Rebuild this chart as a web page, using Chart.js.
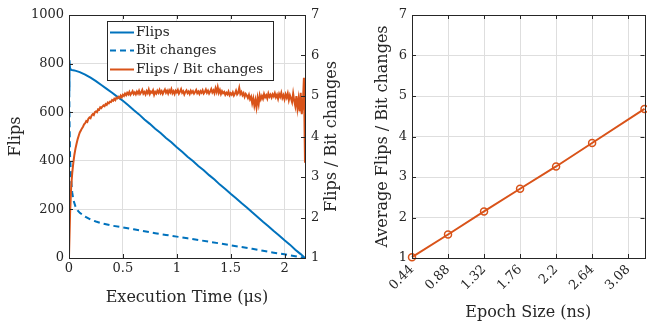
<!DOCTYPE html>
<html>
<head>
<meta charset="utf-8">
<script src="https://cdn.jsdelivr.net/npm/chart.js@4.4.1/dist/chart.umd.min.js"></script>
<style>
  html, body { margin: 0; padding: 0; background: #fff; overflow: hidden; }
  #wrap { position: relative; width: 647px; height: 324px; overflow: hidden; }
  canvas { position: absolute; top: 0; }
</style>
</head>
<body>
<div id="wrap">
  <canvas id="timeChart" width="345" height="324" style="left:0"></canvas>
  <canvas id="epochChart" width="305" height="324" style="left:345px"></canvas>
</div>
<script>
// ---- left panel: flips over execution time ----
var timeTicks = [0, 0.5, 1, 1.5, 2];
var flipTicks = [0, 200, 400, 600, 800, 1000];
var ratioTicks = [1, 2, 3, 4, 5, 6, 7];

var flipTime = [0, 0.004, 0.01, 0.02, 0.05, 0.10, 0.15, 0.20, 0.25, 0.30, 0.35, 0.40, 0.45, 0.50,
  0.55, 0.60, 0.65, 0.70, 0.75, 0.80, 0.85, 0.90, 0.95, 1.00, 1.05, 1.10, 1.15, 1.20, 1.25, 1.30,
  1.35, 1.40, 1.45, 1.50, 1.55, 1.60, 1.65, 1.70, 1.75, 1.80, 1.85, 1.90, 1.95, 2.00, 2.05, 2.10, 2.15, 2.19];
var flips = [690, 815, 780, 774, 772, 765, 755, 742, 728, 712, 696, 680, 663, 647,
  629, 609, 591, 570, 552, 532, 514, 494, 476, 456, 437, 417, 399, 379, 361, 341,
  323, 302, 284, 264, 246, 226, 208, 188, 169, 149, 131, 111, 93, 73, 55, 34, 16, 0];

var bitTime = [0, 0.005, 0.01, 0.02, 0.03, 0.04, 0.06, 0.08, 0.10, 0.15, 0.20, 0.25, 0.30, 0.40, 0.50,
  0.60, 0.70, 0.80, 0.90, 1.00, 1.10, 1.20, 1.30, 1.40, 1.50, 1.60, 1.70, 1.80, 1.90, 2.00, 2.10, 2.19];
var bitChanges = [810, 560, 420, 320, 270, 240, 212, 196, 186, 170, 158, 150, 143, 133, 126,
  118, 110, 102, 95, 88, 81, 74, 67, 60, 52, 45, 38, 30, 22, 15, 7, 0];

// sampled every 0.01 us from t = 0
var ratioStep = 0.01;
var ratio = [
  1.05, 2.10, 2.75, 3.10, 3.35, 3.55, 3.70, 3.82, 3.93, 4.02,
  4.10, 4.15, 4.20, 4.24, 4.30, 4.33, 4.38, 4.36, 4.44, 4.47,
  4.45, 4.52, 4.55, 4.53, 4.60, 4.62, 4.60, 4.67, 4.66, 4.72,
  4.70, 4.74, 4.77, 4.75, 4.80, 4.78, 4.84, 4.82, 4.86, 4.85,
  4.90, 4.88, 4.93, 4.90, 4.96, 4.94, 4.98, 4.95, 5.01, 4.97,
  5.03, 5.00, 5.06, 5.02, 5.08, 5.04, 5.10, 5.03, 5.07, 5.12,
  5.05, 5.09, 5.04, 5.11, 5.06, 5.13, 5.05, 5.09, 5.15, 5.06,
  5.10, 5.04, 5.12, 5.07, 5.16, 5.05, 5.11, 5.08, 5.14, 5.03,
  5.10, 5.06, 5.13, 5.08, 5.15, 5.07, 5.12, 5.05, 5.11, 5.16,
  5.08, 5.13, 5.06, 5.14, 5.09, 5.17, 5.07, 5.12, 5.05, 5.13,
  5.09, 5.15, 5.06, 5.11, 5.17, 5.08, 5.12, 5.04, 5.10, 5.14,
  5.07, 5.11, 5.05, 5.13, 5.08, 5.12, 5.06, 5.10, 5.15, 5.07,
  5.11, 5.05, 5.12, 5.08, 5.14, 5.06, 5.10, 5.16, 5.08, 5.13,
  5.06, 5.11, 5.17, 5.09, 5.14, 5.07, 5.19, 5.10, 5.22, 5.08,
  5.15, 5.05, 5.12, 5.07, 5.10, 5.03, 5.08, 5.04, 5.11, 5.02,
  5.07, 5.03, 5.09, 5.01, 5.06, 5.13, 5.04, 5.08, 5.20, 5.05,
  5.10, 5.02, 5.07, 4.98, 5.05, 5.01, 4.95, 5.03, 4.92, 4.98,
  4.82, 4.94, 4.76, 4.90, 4.72, 4.95, 4.80, 5.02, 4.92, 5.00,
  4.93, 5.05, 4.97, 5.02, 4.94, 5.06, 4.98, 5.03, 4.96, 5.04,
  4.99, 5.07, 4.97, 5.03, 4.93, 5.05, 4.98, 5.08, 4.95, 5.02,
  4.92, 5.04, 4.96, 5.06, 4.90, 5.02, 4.94, 4.85, 5.06, 4.88,
  4.75, 5.00, 4.70, 4.92, 4.62, 5.08, 4.55, 4.80, 5.45, 3.35
];

// ---- right panel: average ratio per epoch size ----
var epochSize = [0.44, 0.88, 1.32, 1.76, 2.2, 2.64, 3.28];
var avgRatio = [1.02, 1.58, 2.15, 2.71, 3.26, 3.84, 4.68];
var epochTicks = [0.44, 0.88, 1.32, 1.76, 2.2, 2.64, 3.08];
var avgTicks = [1, 2, 3, 4, 5, 6, 7];

var blue = '#0072BD';
var orange = '#D95319';
var axisColor = '#262626';
var gridColor = '#dedede';
var family = "'DejaVu Serif', serif";

function xy(xs, ys) {
    return ys.map(function (v, i) { return {x: xs[i], y: v}; });
}

function setTicks(values) {
    return function (scale) {
        scale.ticks = values.map(function (v) { return {value: v}; });
    };
}

function plain(value) {
    return String(value);
}

// MATLAB style box with small inward ticks
var frame = {
    id: 'frame',
    afterDraw: function (chart, args, opts) {
        var ctx = chart.ctx, a = chart.chartArea, sc = chart.scales;
        ctx.save();
        ctx.strokeStyle = axisColor;
        ctx.lineWidth = 1;
        ctx.beginPath();
        sc.x.ticks.forEach(function (t) {
            var px = Math.round(sc.x.getPixelForValue(t.value)) + 0.5;
            ctx.moveTo(px, a.bottom); ctx.lineTo(px, a.bottom - 4);
            ctx.moveTo(px, a.top); ctx.lineTo(px, a.top + 4);
        });
        opts.sides.forEach(function (s) {
            var scale = sc[s[0]];
            scale.ticks.forEach(function (t) {
                var py = Math.round(scale.getPixelForValue(t.value)) + 0.5;
                if (s[1] === 'left') { ctx.moveTo(a.left, py); ctx.lineTo(a.left + 4, py); }
                else { ctx.moveTo(a.right, py); ctx.lineTo(a.right - 4, py); }
            });
        });
        ctx.stroke();
        ctx.strokeRect(Math.round(a.left) + 0.5, Math.round(a.top) + 0.5,
            Math.round(a.right - a.left), Math.round(a.bottom - a.top));
        if (opts.rightTitle) {
            ctx.fillStyle = axisColor;
            ctx.font = '16px ' + family;
            ctx.textAlign = 'center';
            ctx.textBaseline = 'middle';
            ctx.translate(opts.rightTitle.x, (a.top + a.bottom) / 2);
            ctx.rotate(-Math.PI / 2);
            ctx.fillText(opts.rightTitle.text, 0, 0);
        }
        ctx.restore();
    }
};

// legend box inside the left panel
var boxLegend = {
    id: 'boxLegend',
    afterDraw: function (chart, args, opts) {
        if (!opts.show) return;
        var ctx = chart.ctx;
        ctx.save();
        ctx.fillStyle = '#fff';
        ctx.fillRect(opts.x, opts.y, opts.w, opts.h);
        ctx.strokeStyle = axisColor;
        ctx.lineWidth = 1;
        ctx.strokeRect(opts.x + 0.5, opts.y + 0.5, opts.w, opts.h);
        ctx.font = '13.5px ' + family;
        ctx.textBaseline = 'middle';
        ctx.textAlign = 'left';
        chart.data.datasets.forEach(function (ds, i) {
            var yy = Math.round(opts.y + 11 + i * 18.3) + 0.5;
            ctx.strokeStyle = ds.borderColor;
            ctx.lineWidth = 2;
            ctx.setLineDash(ds.borderDash || []);
            ctx.beginPath();
            ctx.moveTo(opts.x + 3, yy);
            ctx.lineTo(opts.x + 27, yy);
            ctx.stroke();
            ctx.setLineDash([]);
            ctx.fillStyle = axisColor;
            ctx.fillText(ds.label, opts.x + 29, yy);
        });
        ctx.restore();
    }
};

var tickFont = {family: family, size: 13};
var titleFont = {family: family, size: 16};

new Chart(document.getElementById('timeChart').getContext('2d'), {
    type: 'line',
    data: {
        datasets: [{
            label: 'Flips',
            data: xy(flipTime, flips),
            borderColor: blue,
            borderWidth: 2,
            yAxisID: 'y',
            order: 1
        }, {
            label: 'Bit changes',
            data: xy(bitTime, bitChanges),
            borderColor: blue,
            borderWidth: 2,
            borderDash: [6, 4],
            yAxisID: 'y',
            order: 2
        }, {
            label: 'Flips / Bit changes',
            data: ratio.map(function (v, i) { return {x: i * ratioStep, y: v}; }),
            borderColor: orange,
            borderWidth: 2,
            yAxisID: 'y2',
            order: 0
        }]
    },
    options: {
        responsive: false,
        animation: false,
        events: [],
        elements: {point: {radius: 0}, line: {tension: 0, fill: false}},
        layout: {padding: {top: 15, left: 0, right: 0, bottom: 0}},
        plugins: {
            legend: {display: false},
            tooltip: {enabled: false},
            frame: {sides: [['y', 'left'], ['y2', 'right']], rightTitle: {x: 332, text: 'Flips / Bit changes'}},
            boxLegend: {show: true, x: 107, y: 21, w: 166, h: 59}
        },
        scales: {
            x: {
                type: 'linear', min: 0, max: 2.19,
                afterBuildTicks: setTicks(timeTicks),
                afterFit: function (s) { s.height = 66; },
                grid: {color: gridColor, drawTicks: false},
                border: {display: false},
                ticks: {font: tickFont, color: axisColor, padding: 3, maxRotation: 0, callback: plain},
                title: {display: true, text: 'Execution Time (μs)', font: titleFont, color: axisColor, padding: {top: 0, bottom: 17}}
            },
            y: {
                type: 'linear', position: 'left', min: 0, max: 1000,
                afterBuildTicks: setTicks(flipTicks),
                afterFit: function (s) { s.width = 69; },
                grid: {color: gridColor, drawTicks: false},
                border: {display: false},
                ticks: {font: tickFont, color: axisColor, padding: 5, callback: plain},
                title: {display: true, text: 'Flips', font: titleFont, color: axisColor, padding: {top: 6, bottom: 0}}
            },
            y2: {
                type: 'linear', position: 'right', min: 1, max: 7,
                afterBuildTicks: setTicks(ratioTicks),
                afterFit: function (s) { s.width = 40; },
                grid: {display: false, drawTicks: false},
                border: {display: false},
                ticks: {font: tickFont, color: axisColor, padding: 6, callback: plain}
            }
        }
    },
    plugins: [frame, boxLegend]
});

new Chart(document.getElementById('epochChart').getContext('2d'), {
    type: 'line',
    data: {
        datasets: [{
            label: 'Average Flips / Bit changes',
            data: xy(epochSize, avgRatio),
            borderColor: orange,
            borderWidth: 2,
            pointRadius: 3.5,
            pointBorderWidth: 1.5,
            pointBorderColor: orange,
            pointBackgroundColor: 'rgba(0,0,0,0)',
            clip: false
        }]
    },
    options: {
        responsive: false,
        animation: false,
        events: [],
        elements: {line: {tension: 0, fill: false}},
        layout: {padding: {top: 15, left: 0, right: 3, bottom: 0}},
        plugins: {
            legend: {display: false},
            tooltip: {enabled: false},
            frame: {sides: [['y', 'left'], ['y', 'right']]},
            boxLegend: {show: false}
        },
        scales: {
            x: {
                type: 'linear', min: 0.44, max: 3.28,
                afterBuildTicks: setTicks(epochTicks),
                afterFit: function (s) { s.height = 66; },
                grid: {color: gridColor, drawTicks: false},
                border: {display: false},
                ticks: {font: tickFont, color: axisColor, padding: 4, minRotation: 45, maxRotation: 45, callback: plain},
                title: {display: true, text: 'Epoch Size (ns)', font: titleFont, color: axisColor, padding: {top: 0, bottom: 2}}
            },
            y: {
                type: 'linear', position: 'left', min: 1, max: 7,
                afterBuildTicks: setTicks(avgTicks),
                afterFit: function (s) { s.width = 67; },
                grid: {color: gridColor, drawTicks: false},
                border: {display: false},
                ticks: {font: tickFont, color: axisColor, padding: 5, callback: plain},
                title: {display: true, text: 'Average Flips / Bit changes', font: titleFont, color: axisColor, padding: {top: 28, bottom: 0}}
            }
        }
    },
    plugins: [frame, boxLegend]
});
</script>
</body>
</html>
